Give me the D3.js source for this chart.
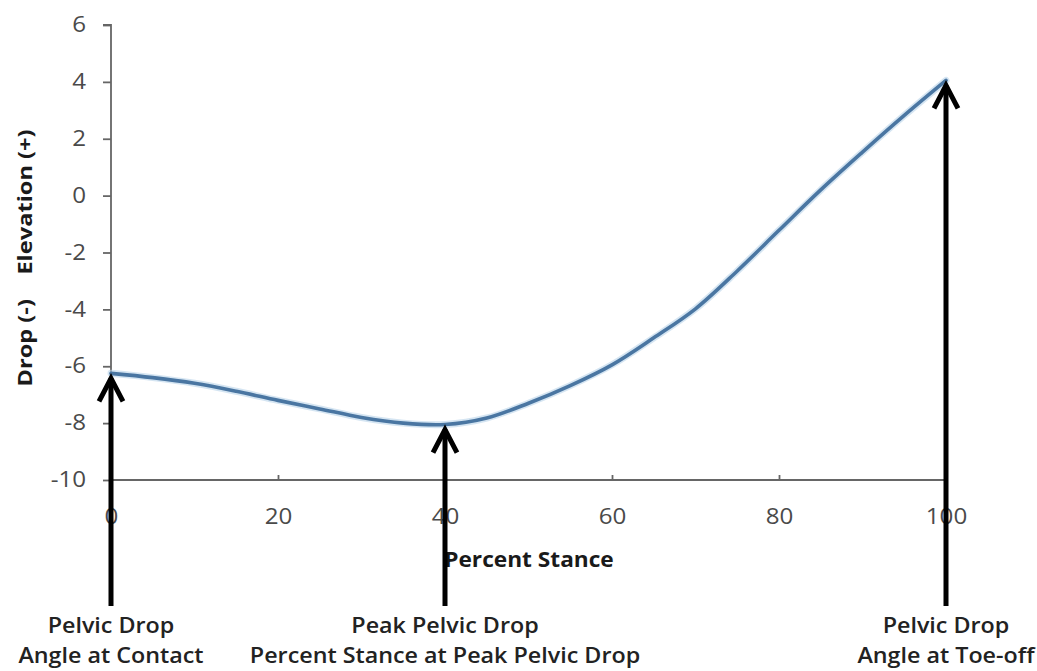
<!DOCTYPE html>
<html>
<head>
<meta charset="utf-8">
<script src="https://cdn.jsdelivr.net/npm/d3@7"></script>
<style>
  html, body { margin: 0; padding: 0; background: #fff; }
  svg { display: block; }
</style>
</head>
<body>
<svg id="chart" width="1037" height="671"></svg>
<script>
// ---- data ----
const stance = [0, 5, 10, 15, 20, 25, 30, 35, 40, 45, 50, 55, 60, 65, 70, 75, 80, 85, 90, 95, 100];
const pelvicAngle = [-6.25, -6.4, -6.6, -6.88, -7.2, -7.5, -7.8, -8.0, -8.05, -7.82, -7.3, -6.68, -5.95, -5.0, -3.98, -2.65, -1.22, 0.2, 1.53, 2.82, 4.05];
const xTicks = [0, 20, 40, 60, 80, 100];
const yTicks = [-10, -8, -6, -4, -2, 0, 2, 4, 6];
const arrowStance = [0, 40, 100];
const arrowLabels = [
  ["Pelvic Drop", "Angle at Contact"],
  ["Peak Pelvic Drop", "Percent Stance at Peak Pelvic Drop"],
  ["Pelvic Drop", "Angle at Toe-off"]
];
const xTitle = "Percent Stance";
const yTitle = "Drop (-)    Elevation (+)";

// ---- layout ----
const svg = d3.select("#chart");
const x = d3.scaleLinear().domain([0, 100]).range([111, 946]);
const y = d3.scaleLinear().domain([-10, 6]).range([480, 25]);
const font = "'Open Sans', 'DejaVu Sans', sans-serif";
const fmt = d => String(d);
const SX = 1.15; // horizontal glyph stretch of the original rendering

// y axis
const yAxis = d3.axisLeft(y).tickValues(yTicks).tickSize(8).tickPadding(17).tickFormat(fmt);
const gy = svg.append("g").attr("transform", `translate(${x(0)},0)`).call(yAxis);
gy.select(".domain").attr("stroke", "#666").attr("stroke-width", 1.8).attr("d", `M-8,${y(6)}H0V${y(-10)}`);
gy.selectAll(".tick line").attr("stroke", "#666").attr("stroke-width", 1.8);
gy.selectAll(".tick text")
  .attr("x", 0).attr("transform", `translate(-25,0) scale(${SX},1)`)
  .attr("fill", "#4a4a4a").style("font-family", font).style("font-size", "21px");

// x axis
const xAxis = d3.axisBottom(x).tickValues(xTicks).tickSize(0).tickPadding(29).tickFormat(fmt);
const gx = svg.append("g").attr("transform", `translate(0,${y(-10)})`).call(xAxis);
gx.select(".domain").attr("stroke", "#666").attr("stroke-width", 1.8).attr("d", `M${x(0)},0H${x(100)}`);
gx.selectAll(".tick text")
  .attr("transform", `scale(${SX},1)`)
  .attr("fill", "#4a4a4a").style("font-family", font).style("font-size", "21px");
gx.selectAll(".tick").append("line").attr("y1", 0).attr("y2", -5).attr("stroke", "#666").attr("stroke-width", 1.8);

// axis titles
svg.append("text")
  .attr("transform", `translate(529,567) scale(1.08,1)`)
  .attr("text-anchor", "middle")
  .style("font-family", font).style("font-size", "21px").style("font-weight", 700)
  .attr("fill", "#1a1a1a")
  .text(xTitle);

svg.append("text")
  .attr("transform", `translate(32,258) rotate(-90) scale(1.18,1)`)
  .attr("text-anchor", "middle")
  .style("font-family", font).style("font-size", "20px").style("font-weight", 700)
  .style("white-space", "pre")
  .attr("fill", "#1a1a1a")
  .text(yTitle);

// curve
const pts = stance.map((s, i) => [s, pelvicAngle[i]]);
const line = d3.line().x(d => x(d[0])).y(d => y(d[1])).curve(d3.curveCatmullRom.alpha(0.5));
svg.append("path").datum(pts).attr("d", line)
  .attr("fill", "none").attr("stroke", "#b9d3ea").attr("stroke-width", 7).attr("stroke-linecap", "round").attr("opacity", 0.6);
svg.append("path").datum(pts).attr("d", line)
  .attr("fill", "none").attr("stroke", "#4a76a2").attr("stroke-width", 3.6).attr("stroke-linecap", "round");

// arrows
const valueAt = s => pelvicAngle[stance.indexOf(s)];
arrowStance.forEach((s, i) => {
  const ax = x(s);
  const tipY = y(valueAt(s)) + 2;
  const g = svg.append("g");
  g.append("line").attr("x1", ax).attr("x2", ax).attr("y1", 606).attr("y2", tipY + 3)
    .attr("stroke", "#000").attr("stroke-width", 5);
  g.append("path").attr("d", `M${ax - 12},${tipY + 26}L${ax},${tipY + 3}L${ax + 12},${tipY + 26}`)
    .attr("fill", "none").attr("stroke", "#000").attr("stroke-width", 5).attr("stroke-linejoin", "miter");
  arrowLabels[i].forEach((t, j) => {
    svg.append("text")
      .attr("transform", `translate(${ax},${633 + j * 30}) scale(1.11,1)`)
      .attr("text-anchor", "middle")
      .style("font-family", font).style("font-size", "21px").style("font-weight", 600)
      .attr("fill", "#222")
      .text(t);
  });
});
</script>
</body>
</html>
